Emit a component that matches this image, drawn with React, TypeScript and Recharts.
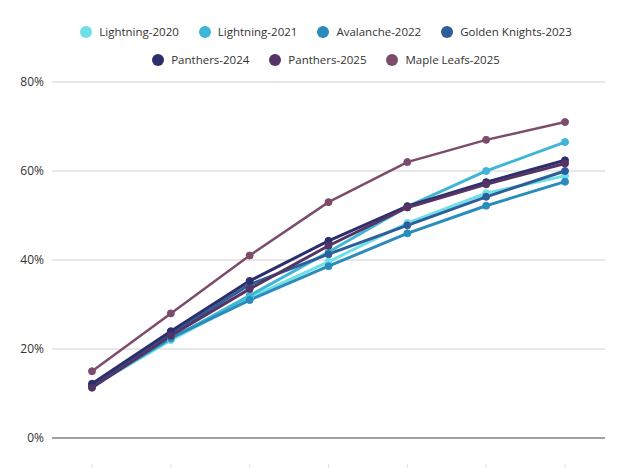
import * as React from "react";
import { CartesianGrid, Line, LineChart, ReferenceLine, XAxis, YAxis } from "recharts";

const categories = ["1", "2", "3", "4", "5", "6", "7"];

const lightning2020 = [11.5, 22, 31.5, 39.6, 48.3, 55, 58.9];
const lightning2021 = [11.8, 22.3, 32, 41.8, 52, 60, 66.5];
const avalanche2022 = [11.6, 22.5, 31, 38.6, 46, 52.2, 57.6];
const goldenKnights2023 = [11.8, 23.3, 34.5, 41.3, 47.8, 54.2, 60];
const panthers2024 = [12.2, 24, 35.3, 44.3, 52.1, 57.5, 62.4];
const panthers2025 = [11.3, 23, 33.5, 43.2, 51.8, 57, 61.7];
const mapleLeafs2025 = [15, 28, 41, 53, 62, 67, 71];

const yTicks = [0, 20, 40, 60, 80];

const series = [
  { key: "Lightning-2020", values: lightning2020, color: "#6ee0e6", width: 3 },
  { key: "Lightning-2021", values: lightning2021, color: "#3fb6d5", width: 3 },
  { key: "Avalanche-2022", values: avalanche2022, color: "#2a8cbd", width: 3 },
  { key: "Golden Knights-2023", values: goldenKnights2023, color: "#2d5e99", width: 3 },
  { key: "Panthers-2024", values: panthers2024, color: "#2b2f6c", width: 3 },
  { key: "Panthers-2025", values: panthers2025, color: "#553465", width: 3 },
  { key: "Maple Leafs-2025", values: mapleLeafs2025, color: "#7d4b6c", width: 2.5 },
];

// legend wraps 4 + 3 in the original
const legendRows = [series.slice(0, 4), series.slice(4)];

const data = categories.map((c, i) => {
  const row: Record<string, string | number> = { cat: c };
  series.forEach((s) => (row[s.key] = s.values[i]));
  return row;
});

const font = "'Open Sans', sans-serif";

function XTick(props: any) {
  const { x, y } = props;
  return <line x1={x} x2={x} y1={y + 18} y2={y + 24} stroke="#e0e0e0" />;
}

export default function App() {
  return (
    <div style={{ position: "relative", width: 624, height: 468, fontFamily: font, background: "#fff" }}>
      <style>{`body{margin:0}`}</style>
      <div
        style={{
          position: "absolute",
          top: 18,
          left: 26,
          width: 600,
          fontSize: 11.5,
          color: "#333",
          lineHeight: "28px",
        }}
      >
        {legendRows.map((row, ri) => (
          <div key={ri} style={{ display: "flex", justifyContent: "center", columnGap: 20 }}>
            {row.map((s) => (
              <div key={s.key} style={{ display: "flex", alignItems: "center", whiteSpace: "nowrap" }}>
                <span
                  style={{
                    display: "inline-block",
                    width: 12,
                    height: 12,
                    borderRadius: 6,
                    background: s.color,
                    marginRight: 7,
                  }}
                />
                {s.key}
              </div>
            ))}
          </div>
        ))}
      </div>
      <LineChart width={624} height={468} data={data} margin={{ top: 82, right: 19, left: 0, bottom: 0 }}>
        <CartesianGrid vertical={false} stroke="#d0d0d0" />
        <XAxis
          dataKey="cat"
          axisLine={false}
          tickLine={false}
          height={30}
          padding={{ left: 40, right: 40 }}
          tick={<XTick />}
        />
        <YAxis
          width={52}
          domain={[0, 80]}
          ticks={yTicks}
          axisLine={false}
          tickLine={false}
          tickFormatter={(v: number) => `${v}%`}
          tick={{ fontSize: 12, fill: "#333", fontFamily: font }}
        />
        <ReferenceLine y={0} stroke="#8a8a8a" strokeWidth={1.5} />
        {series.map((s) => (
          <Line
            key={s.key}
            dataKey={s.key}
            stroke={s.color}
            strokeWidth={s.width}
            dot={{ r: 3.5, fill: s.color, stroke: s.color, strokeWidth: 1 }}
            activeDot={false}
            isAnimationActive={false}
          />
        ))}
      </LineChart>
    </div>
  );
}
